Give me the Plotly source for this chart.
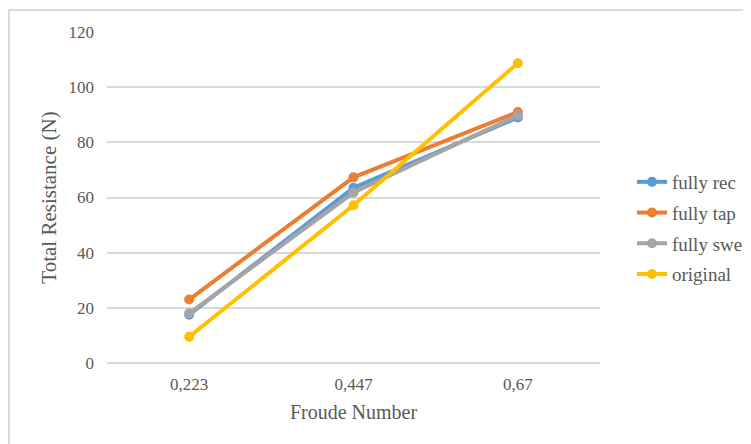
import plotly.graph_objects as go

categories = ["0,223", "0,447", "0,67"]
fully_rec = [17.5, 63.5, 89.0]
fully_tap = [23.0, 67.3, 91.0]
fully_swe = [18.0, 61.8, 89.8]
original = [9.5, 57.2, 108.7]

series = [
    ("fully rec", fully_rec, "#5B9BD5"),
    ("fully tap", fully_tap, "#ED7D31"),
    ("fully swe", fully_swe, "#A5A5A5"),
    ("original", original, "#FFC000"),
]

fig = go.Figure()
for name, vals, color in series:
    fig.add_trace(go.Scatter(
        x=categories, y=vals, name=name, mode="lines+markers",
        legendgroup=name,
        line=dict(color=color, width=4),
        marker=dict(color=color, size=10),
    ))

# page body has an 8px margin, so the figure is 8px smaller than the window
W, H = 743, 436
L, R, T, B = 99, 151, 24, 81
pw, ph = W - L - R, H - T - B

fig.update_layout(
    width=W, height=H,
    margin=dict(l=L, r=R, t=T, b=B, autoexpand=False),
    paper_bgcolor="white", plot_bgcolor="white",
    font=dict(family="Liberation Serif", size=17, color="#595959"),
    showlegend=True,
    legend=dict(x=(624 - L) / pw, y=(H - B - 220) / ph, xanchor="left", yanchor="middle",
                font=dict(size=19, color="#595959"),
                tracegroupgap=3),
    xaxis=dict(type="category", range=[-0.5, 2.5],
               showgrid=False, zeroline=False, showline=False,
               ticks="", ticklabelstandoff=9,
               tickfont=dict(size=17, color="#595959"),
               title=dict(text="Froude Number", font=dict(size=20, color="#595959"), standoff=11)),
    yaxis=dict(range=[0, 120], dtick=20, showgrid=True, gridcolor="#D9D9D9", gridwidth=1.5,
               zeroline=True, zerolinecolor="#D9D9D9", zerolinewidth=1.5,
               showline=False, ticks="", ticklabelstandoff=12,
               tickfont=dict(size=17, color="#595959"),
               title=dict(text="Total Resistance (N)", font=dict(size=21, color="#595959"), standoff=6)),
    shapes=[dict(type="rect", xref="paper", yref="paper",
                 x0=(1 - L) / pw, x1=(W + 20 - L) / pw,
                 y0=(H - B - (H + 20)) / ph, y1=(H - B - 2) / ph,
                 line=dict(color="#D9D9D9", width=2), fillcolor="rgba(0,0,0,0)", layer="below")],
)

fig.write_html("out.html")
